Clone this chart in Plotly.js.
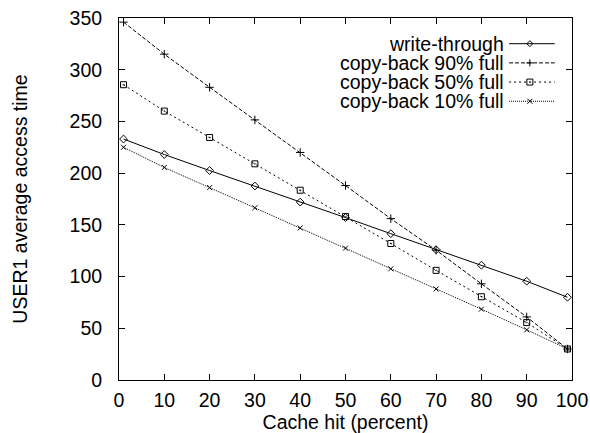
<!DOCTYPE html>
<html>
<head>
<meta charset="utf-8">
<script src="https://cdn.plot.ly/plotly-3.0.1.min.js"></script>
<style>html,body{margin:0;padding:0;background:#fff;}#chart{width:590px;height:433px;}</style>
</head>
<body>
<div id="chart"></div>
<script>
const cacheHit = [1, 10, 20, 30, 40, 50, 60, 70, 80, 90, 99];
const writeThrough = [233, 218, 202.5, 187.5, 172, 157, 141.5, 126, 111, 95.5, 80];
const copyBack90 = [346, 315, 283, 251.5, 220, 188, 156, 125.5, 93, 61, 30];
const copyBack50 = [285.5, 260, 234.5, 209, 183.5, 158, 132, 106, 80.5, 55.5, 30];
const copyBack10 = [225, 205.5, 186, 166.5, 147, 127.5, 107.5, 88, 68.5, 48.5, 30];
const seriesNames = ["write-through", "copy-back 90% full", "copy-back 50% full", "copy-back 10% full"];
const xTicks = [0, 10, 20, 30, 40, 50, 60, 70, 80, 90, 100];
const yTicks = [0, 50, 100, 150, 200, 250, 300, 350];

const FONT = "Liberation Sans, Arial, Helvetica, sans-serif";
const FS = 19.5;
const styles = [
  {dash: "solid", symbol: "diamond-open", size: 6},
  {dash: "4px,2px", symbol: "cross-thin-open", size: 6},
  {dash: "2px,3px", symbol: "square-open-dot", size: 6},
  {dash: "1px,1px", symbol: "x-thin-open", size: 5}
];
const ys = [writeThrough, copyBack90, copyBack50, copyBack10];

const traces = ys.map((y, i) => ({
  type: "scatter", mode: "lines+markers", x: cacheHit, y: y, name: seriesNames[i],
  line: {color: "#000", width: 1, dash: styles[i].dash},
  marker: {symbol: styles[i].symbol, size: styles[i].size, color: "#000", line: {color: "#000", width: 1}},
  showlegend: false, cliponaxis: false
}));

// legend drawn with annotations + shapes (text right-aligned, key on right as in reference)
const rowY = [0.929, 0.876, 0.823, 0.770];
const textX = 0.852, lineX0 = 0.861, lineX1 = 0.962, markX = 0.907;
const markerPaths = [
  "M-3,0 L0,-3 L3,0 L0,3 Z",
  "M-3.5,0 L3.5,0 M0,-3.5 L0,3.5",
  "M-3,-3 L3,-3 L3,3 L-3,3 Z M-0.5,0 L0.5,0",
  "M-2.5,-2.5 L2.5,2.5 M-2.5,2.5 L2.5,-2.5"
];
const annotations = [], shapes = [];
seriesNames.forEach((n, i) => {
  annotations.push({xref: "paper", yref: "paper", x: textX, y: rowY[i], xanchor: "right", yanchor: "middle",
    borderpad: 0, text: n, showarrow: false, font: {family: FONT, size: FS, color: "#000"}});
  shapes.push({type: "line", xref: "paper", yref: "paper", x0: lineX0, x1: lineX1, y0: rowY[i], y1: rowY[i],
    line: {color: "#000", width: 1, dash: styles[i].dash}});
  shapes.push({type: "path", xref: "paper", yref: "paper", xsizemode: "pixel", ysizemode: "pixel",
    xanchor: markX, yanchor: rowY[i], path: markerPaths[i], line: {color: "#000", width: 1}, fillcolor: "rgba(0,0,0,0)"});
});

const layout = {
  width: 590, height: 433,
  margin: {l: 119, r: 18, t: 18, b: 53},
  paper_bgcolor: "#fff", plot_bgcolor: "#fff",
  font: {family: FONT, size: FS, color: "#000"},
  showlegend: false,
  xaxis: {
    range: [0, 100], tickvals: xTicks, ticktext: xTicks.map(String),
    ticks: "inside", ticklen: 6, tickcolor: "#000", tickwidth: 1,
    showline: true, linecolor: "#000", linewidth: 1, mirror: "ticks",
    showgrid: false, zeroline: false, ticklabelstandoff: 3,
    title: {text: "Cache hit (percent)", font: {family: FONT, size: FS}, standoff: 0},
    fixedrange: true
  },
  yaxis: {
    range: [0, 350], tickvals: yTicks, ticktext: yTicks.map(String),
    ticks: "inside", ticklen: 6, tickcolor: "#000", tickwidth: 1,
    showline: true, linecolor: "#000", linewidth: 1, mirror: "ticks",
    showgrid: false, zeroline: false, ticklabelstandoff: 12,
    title: {text: "USER1 average access time", font: {family: FONT, size: FS}, standoff: 36},
    fixedrange: true
  },
  annotations: annotations,
  shapes: shapes
};

Plotly.newPlot("chart", traces, layout, {displayModeBar: false, staticPlot: true});
</script>
</body>
</html>
